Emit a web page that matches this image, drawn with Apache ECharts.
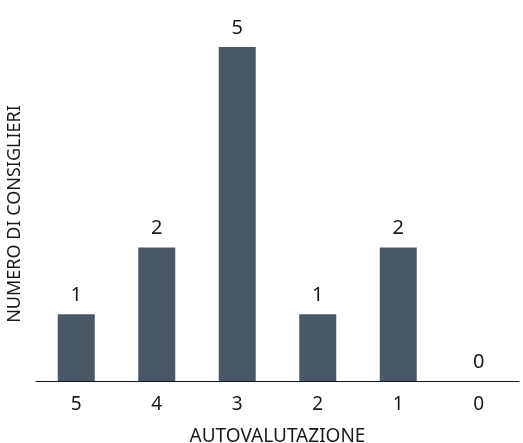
<!DOCTYPE html>
<html>
<head>
<meta charset="utf-8">
<script src="https://cdn.jsdelivr.net/npm/echarts@6/dist/echarts.min.js"></script>
<style>
  html, body { margin: 0; padding: 0; background: #fff; }
  #chart { width: 523px; height: 443px; }
</style>
</head>
<body>
<div id="chart"></div>
<script>
// dati
const categories = ['5', '4', '3', '2', '1', '0'];
const counts = [1, 2, 5, 1, 2, 0];

const chart = echarts.init(document.getElementById('chart'));
chart.setOption({
  animation: false,
  textStyle: { fontFamily: 'Noto Sans', color: '#1a1a1a' },
  grid: { left: 36, right: 4, top: 47, bottom: 62, outerBoundsMode: 'none' },
  xAxis: {
    type: 'category',
    data: categories,
    name: 'AUTOVALUTAZIONE',
    nameLocation: 'middle',
    nameGap: 46,
    nameTextStyle: { fontSize: 19, color: '#1a1a1a' },
    axisLine: { lineStyle: { color: '#1a1a1a', width: 1 } },
    axisTick: { show: false },
    axisLabel: { fontSize: 19, color: '#1a1a1a', margin: 14 }
  },
  yAxis: {
    type: 'value',
    min: 0,
    max: 5,
    name: 'NUMERO DI CONSIGLIERI',
    nameLocation: 'middle',
    nameGap: 12,
    nameTextStyle: { fontSize: 18, color: '#1a1a1a' },
    axisLine: { show: false },
    axisTick: { show: false },
    axisLabel: { show: false },
    splitLine: { show: false }
  },
  series: [{
    type: 'bar',
    data: counts,
    barWidth: 37,
    itemStyle: { color: '#4a5866' },
    label: {
      show: true,
      position: 'top',
      distance: 9,
      fontSize: 20,
      color: '#1a1a1a'
    }
  }]
});
</script>
</body>
</html>
